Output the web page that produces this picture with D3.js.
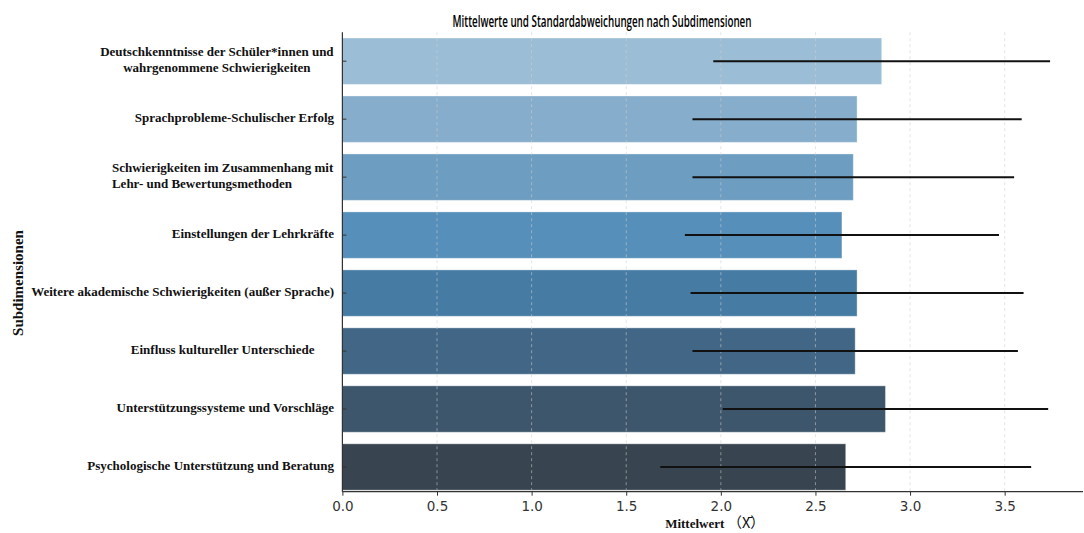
<!DOCTYPE html>
<html>
<head>
<meta charset="utf-8">
<script src="https://cdn.jsdelivr.net/npm/d3@7"></script>
<style>
  html, body { margin: 0; padding: 0; background: #fff; }
  svg { display: block; }
  .cat, .xt { white-space: pre; }
</style>
</head>
<body>
<svg id="chart" width="1084" height="533"></svg>
<script>
// Subdimensions (each entry: label lines)
const categories = [
  ["Deutschkenntnisse der Schüler*innen und", "wahrgenommene Schwierigkeiten"],
  ["Sprachprobleme-Schulischer Erfolg"],
  ["Schwierigkeiten im Zusammenhang mit", "Lehr- und Bewertungsmethoden"],
  ["Einstellungen der Lehrkräfte"],
  ["Weitere akademische Schwierigkeiten (außer Sprache)"],
  ["Einfluss kultureller Unterschiede      "],
  ["Unterstützungssysteme und Vorschläge"],
  ["Psychologische Unterstützung und Beratung"]
];
const means = [2.85, 2.72, 2.70, 2.64, 2.72, 2.71, 2.87, 2.66];
const sds   = [0.89, 0.87, 0.85, 0.83, 0.88, 0.86, 0.86, 0.98];
const xTicks = [0, 0.5, 1.0, 1.5, 2.0, 2.5, 3.0, 3.5];
const barColors = ["#9bbdd6", "#86adcb", "#6d9dc0", "#568fb9", "#467ca4", "#426786", "#3d566b", "#38444f"];

const titleText = "Mittelwerte und Standardabweichungen nach Subdimensionen";
const xTitle = "Mittelwert ";
const xTitleSymbol = "（X̄）";
const yTitle = "Subdimensionen";

const svg = d3.select("#chart");
const plot = { left: 342.4, right: 1083, top: 32.2, axisY: 491.7, bandBottom: 496 };

const x = d3.scaleLinear().domain([0, 3.914]).range([plot.left, plot.right]);
const y = d3.scaleBand()
  .domain(d3.range(categories.length))
  .range([plot.top, plot.bandBottom])
  .paddingInner(0.2).paddingOuter(0.1);

// bars
svg.append("g").selectAll("rect")
  .data(means)
  .join("rect")
  .attr("x", x(0))
  .attr("y", (d, i) => y(i))
  .attr("width", d => x(d) - x(0))
  .attr("height", y.bandwidth())
  .attr("fill", (d, i) => barColors[i])
  .attr("stroke", "#ffffff")
  .attr("stroke-opacity", 0.35)
  .attr("stroke-width", 1);

// vertical dashed grid
svg.append("g").selectAll("line")
  .data(xTicks)
  .join("line")
  .attr("x1", d => x(d)).attr("x2", d => x(d))
  .attr("y1", plot.top).attr("y2", plot.axisY)
  .attr("stroke", "#d0d0d0")
  .attr("stroke-opacity", 0.55)
  .attr("stroke-width", 1)
  .attr("stroke-dasharray", "3,3");

// error bars: mean ± sd
svg.append("g").selectAll("line")
  .data(means)
  .join("line")
  .attr("x1", (d, i) => x(d - sds[i]))
  .attr("x2", (d, i) => x(d + sds[i]))
  .attr("y1", (d, i) => y(i) + y.bandwidth() / 2)
  .attr("y2", (d, i) => y(i) + y.bandwidth() / 2)
  .attr("stroke", "#111")
  .attr("stroke-width", 2);

// x axis
const xAxis = svg.append("g")
  .attr("transform", `translate(0,${plot.axisY})`)
  .call(d3.axisBottom(x).tickValues(xTicks).tickFormat(d3.format(".1f")).tickSize(4).tickSizeOuter(0));
xAxis.select(".domain").attr("stroke", "#333").attr("stroke-width", 1.2)
  .attr("d", `M${plot.left},0H${plot.right}`);
xAxis.selectAll(".tick line").attr("stroke", "#333");
xAxis.selectAll(".tick text")
  .attr("font-family", "DejaVu Sans, sans-serif")
  .attr("font-size", 13.5)
  .attr("fill", "#333")
  .attr("dy", "0.9em");

// y axis spine with short inward ticks
svg.append("line")
  .attr("x1", plot.left).attr("x2", plot.left)
  .attr("y1", plot.top).attr("y2", plot.axisY)
  .attr("stroke", "#333").attr("stroke-width", 1.2);
svg.append("g").selectAll("line")
  .data(means)
  .join("line")
  .attr("x1", plot.left).attr("x2", plot.left + 4)
  .attr("y1", (d, i) => y(i) + y.bandwidth() / 2)
  .attr("y2", (d, i) => y(i) + y.bandwidth() / 2)
  .attr("stroke", "#333");

// category labels
const lab = svg.append("g")
  .attr("font-family", "Liberation Serif, Times New Roman, serif")
  .attr("font-weight", "bold")
  .attr("font-size", 13)
  .attr("fill", "#111");
categories.forEach((lines, i) => {
  const cy = y(i) + y.bandwidth() / 2;
  const lh = 16;
  const t = lab.append("text")
    .attr("class", "cat")
    .attr("text-anchor", i === 2 ? "start" : (lines.length > 1 ? "middle" : "end"));
  const xr = 334;
  lines.forEach((ln, k) => {
    t.append("tspan")
      .attr("x", xr)
      .attr("y", cy - 2 + (k - (lines.length - 1) / 2) * lh)
      .attr("dy", "0.35em")
      .text(ln);
  });
  if (lines.length > 1) {
    // align wrapped lines as a block ending at the right edge
    const w = t.node().getBBox().width;
    if (i === 2) t.selectAll("tspan").attr("x", xr - w);
    else t.selectAll("tspan").attr("x", xr - w / 2);
  }
});

// title
svg.append("text")
  .attr("x", 602).attr("y", 27)
  .attr("text-anchor", "middle")
  .attr("font-family", "Open Sans, sans-serif")
  .attr("font-weight", 600)
  .attr("font-size", 16)
  .attr("textLength", 299)
  .attr("lengthAdjust", "spacingAndGlyphs")
  .attr("fill", "#000")
  .text(titleText);

// x axis title
const xt = svg.append("text")
  .attr("class", "xt")
  .attr("x", 715).attr("y", 528)
  .attr("text-anchor", "middle")
  .attr("fill", "#111");
xt.append("tspan")
  .attr("font-family", "Liberation Serif, Times New Roman, serif")
  .attr("font-weight", "bold")
  .attr("font-size", 13)
  .text(xTitle);
xt.append("tspan")
  .attr("font-family", "Noto Sans CJK SC, sans-serif")
  .attr("font-size", 14.5)
  .text(xTitleSymbol);

// y axis title
svg.append("text")
  .attr("transform", "translate(23,283) rotate(-90)")
  .attr("text-anchor", "middle")
  .attr("font-family", "Liberation Serif, Times New Roman, serif")
  .attr("font-weight", "bold")
  .attr("font-size", 15)
  .attr("fill", "#111")
  .text(yTitle);
</script>
</body>
</html>
